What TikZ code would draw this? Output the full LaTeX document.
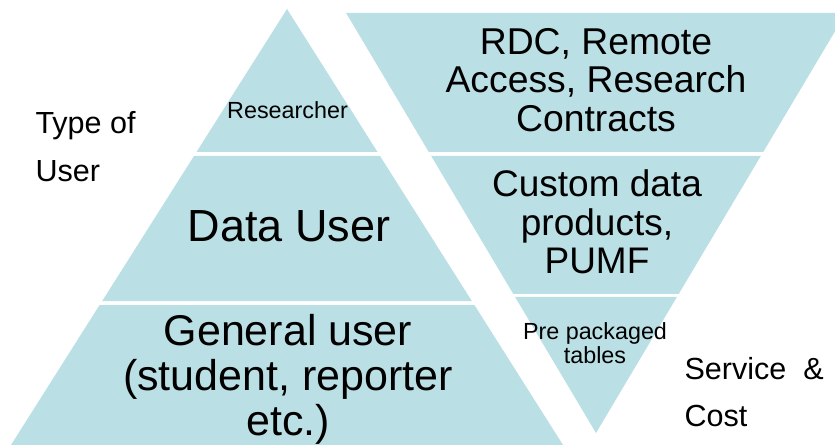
\documentclass[tikz,border=0pt]{standalone}
\usepackage{fontspec}
\setmainfont{Liberation Sans}
\definecolor{tierfill}{RGB}{186,223,228}
\tikzset{
	tier/.style={fill=tierfill, draw opacity=0},
	tiertext/.style={inner sep=0pt, align=center, text=black},
	sidetext/.style={inner sep=0pt, align=left, anchor=west, font=\fontsize{22.9}{36}\selectfont}}
\tikzset{every picture/.style={line width=0.75pt}}

\begin{document}
\begin{tikzpicture}[x=0.75pt,y=0.75pt,yscale=-1,xscale=1]
	\clip (0,0) rectangle (835,445); %diagram is 835 wide and 445 high

	% Left pyramid: type of user
	%Shape: Triangle [top tier]
	\fill [tier] (287,9) -- (377.5,152) -- (196.5,152) -- cycle ;
	%Shape: Trapezoid [middle tier]
	\fill [tier] (194,156) -- (380,156) -- (471.8,301) -- (102.2,301) -- cycle ;
	%Shape: Trapezoid [bottom tier]
	\fill [tier] (99.6,305) -- (474.4,305) -- (563,445) -- (11,445) -- cycle ;

	% Right pyramid: service and cost
	%Shape: Trapezoid [top tier]
	\fill [tier] (346.1,13) -- (845.9,13) -- (763.2,152) -- (428.8,152) -- cycle ;
	%Shape: Trapezoid [middle tier]
	\fill [tier] (431.2,156) -- (760.8,156) -- (678.7,294) -- (513.3,294) -- cycle ;
	%Shape: Triangle [bottom tier]
	\fill [tier] (515.1,297) -- (676.9,297) -- (596,433) -- cycle ;

	% Tier labels
	\node [tiertext, anchor=base, font=\fontsize{17.5}{18}\selectfont] (researcher) at (287.5,119) {Researcher};
	\node [tiertext, anchor=base, font=\fontsize{33.75}{29.25}\selectfont] (datauser) at (289,242) {Data User};
	\node [tiertext, font=\fontsize{32.25}{33.75}\selectfont] (generaluser) at (288,379.3) {General user\\(student, reporter\\etc.)};
	\node [tiertext, font=\fontsize{28}{28.9}\selectfont] (rdc) at (596,80) {RDC, Remote\\Access, Research\\Contracts};
	\node [tiertext, font=\fontsize{27.75}{29}\selectfont] (custom) at (597,222) {Custom data\\products,\\PUMF};
	\node [tiertext, font=\fontsize{17.5}{18}\selectfont] (prepack) at (595,343.6) {Pre packaged\\tables};

	% Side labels
	\node [sidetext] (typeofuser) at (35,146.5) {Type of\\User};
	\node [sidetext, font=\fontsize{22.9}{35.25}\selectfont] (servicecost) at (684,392) {Service \ \&\\Cost};

\end{tikzpicture}
\end{document}
